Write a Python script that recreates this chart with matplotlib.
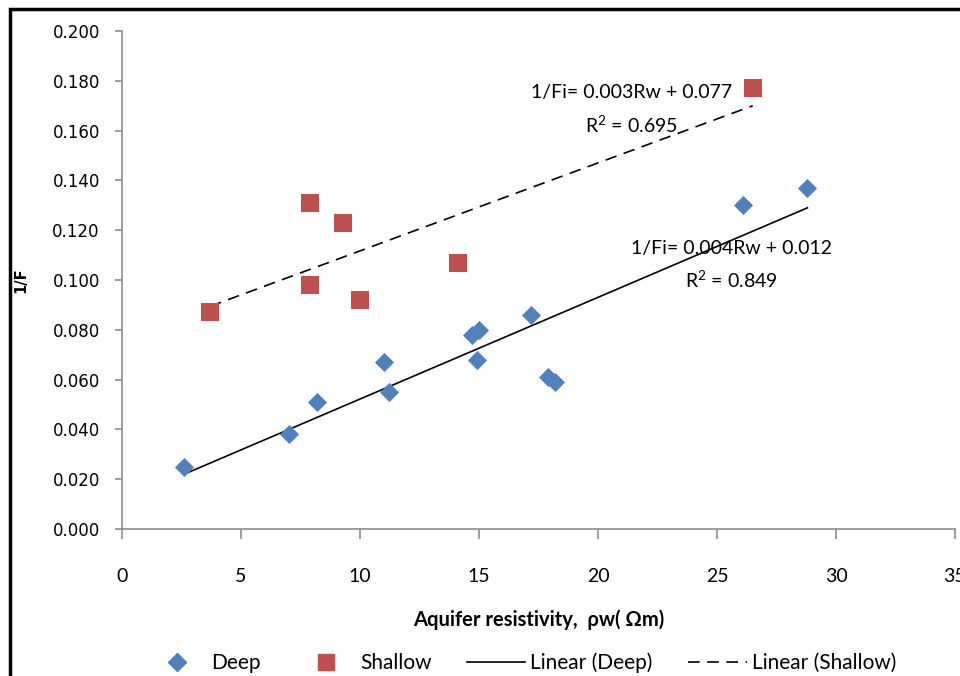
import numpy as np
import matplotlib
matplotlib.use("Agg")
import matplotlib.pyplot as plt
from matplotlib.patches import Rectangle
from matplotlib.lines import Line2D

deep_x = [2.6, 7.0, 8.2, 11.0, 11.2, 14.7, 15.0, 14.9, 17.2, 17.9, 18.2, 26.1, 28.8]
deep_y = [0.025, 0.038, 0.051, 0.067, 0.055, 0.078, 0.080, 0.068, 0.086, 0.061, 0.059, 0.130, 0.137]
shallow_x = [3.7, 7.9, 7.9, 9.3, 10.0, 14.1, 26.5]
shallow_y = [0.087, 0.131, 0.098, 0.123, 0.092, 0.107, 0.177]

deep_eq = ["1/Fi= 0.004Rw + 0.012", "R$^2$ = 0.849"]
shallow_eq = ["1/Fi= 0.003Rw + 0.077", "R$^2$ = 0.695"]

xticks = [0, 5, 10, 15, 20, 25, 30, 35]
yticks = [0.0, 0.02, 0.04, 0.06, 0.08, 0.10, 0.12, 0.14, 0.16, 0.18, 0.20]

narrow = ["Lato", "DejaVu Sans"]
plt.rcParams["mathtext.fontset"] = "custom"
plt.rcParams["mathtext.rm"] = "Lato"

fig = plt.figure(figsize=(9.6, 6.76), dpi=100)
ax = fig.add_axes([122/960, 1 - 529/676, (955-122)/960, (529-31)/676])

dp = np.polyfit(deep_x, deep_y, 1)
sp = np.polyfit(shallow_x, shallow_y, 1)
dx = np.array([min(deep_x), max(deep_x)])
sx = np.array([min(shallow_x), max(shallow_x)])
dash = (0, (7, 4.5))
ax.plot(dx, np.polyval(dp, dx), color="black", lw=1.2, zorder=2)
ax.plot(sx, np.polyval(sp, sx), color="black", lw=1.2, ls=dash, zorder=2)

ax.scatter(deep_x, deep_y, marker="D", s=95, color="#4F81BD", zorder=3, linewidths=0)
ax.scatter(shallow_x, shallow_y, marker="s", s=165, color="#C0504D", zorder=3, linewidths=0)

ax.set_xlim(0, 35)
ax.set_ylim(0, 0.2)
ax.set_xticks(xticks)
ax.set_yticks(yticks)
ax.set_yticklabels([f"{v:.3f}" for v in yticks], family="DejaVu Sans", fontsize=12)
for s in ["top", "right"]:
    ax.spines[s].set_visible(False)
for s in ["left", "bottom"]:
    ax.spines[s].set_color("#8c8c8c")
    ax.spines[s].set_linewidth(1.2)
ax.tick_params(axis="both", colors="#8c8c8c", width=1.2, labelcolor="black")
ax.tick_params(axis="x", length=7, pad=21)
ax.tick_params(axis="y", length=5, pad=11)
for lab in ax.get_xticklabels():
    lab.set_family(narrow)
    lab.set_fontsize(14)

ax.set_xlabel("Aquifer resistivity,  ρw( Ωm)", family=narrow, fontweight="bold", fontsize=14.5, labelpad=18)
ax.set_ylabel("1/F", family="DejaVu Sans", fontweight="bold", fontsize=10.5, labelpad=17)

ax.text(21.4, 0.1755, shallow_eq[0], family=narrow, fontsize=14, ha="center", va="center")
ax.text(21.4, 0.1622, shallow_eq[1], family=narrow, fontsize=14, ha="center", va="center")
ax.text(25.6, 0.1128, deep_eq[0], family=narrow, fontsize=14, ha="center", va="center")
ax.text(25.6, 0.1000, deep_eq[1], family=narrow, fontsize=14, ha="center", va="center")

handles = [
    Line2D([], [], marker="D", color="#4F81BD", ls="none", markersize=9),
    Line2D([], [], marker="s", color="#C0504D", ls="none", markersize=12),
    Line2D([], [], color="black", lw=1.2),
    Line2D([], [], color="black", lw=1.2, ls=dash),
]
labels = ["Deep", "Shallow", "Linear (Deep)", "Linear (Shallow)"]
fig.legend(handles, labels, loc="center", bbox_to_anchor=(522/960, 1 - 663/676), ncol=4,
           frameon=False, prop={"family": narrow, "size": 15}, columnspacing=1.7,
           handlelength=2.8, handletextpad=0.25)

fig.add_artist(Rectangle((10/960, -0.1), 1.2, 1.1 - 9/676, transform=fig.transFigure,
                         fill=False, edgecolor="black", lw=2.5))

fig.savefig("out.png", dpi=100)
